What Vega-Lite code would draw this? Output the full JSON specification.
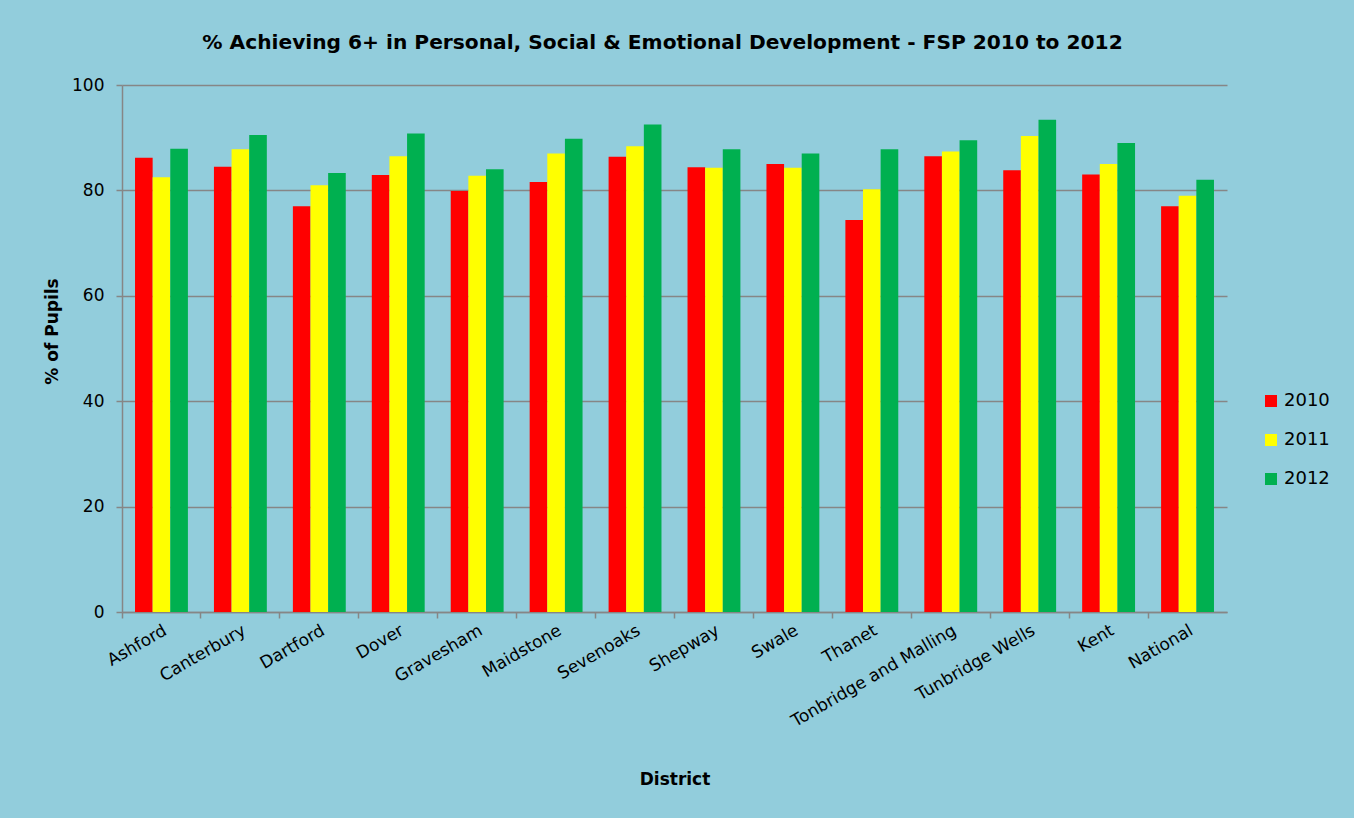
{
  "$schema": "https://vega.github.io/schema/vega-lite/v6.json",
  "autosize": "none",
  "width": 1105,
  "height": 527,
  "padding": {"left": 122, "top": 85, "right": 127, "bottom": 206},
  "background": "#92CDDC",
  "config": {
    "view": {"stroke": null},
    "font": "DejaVu Sans"
  },
  "title": {
    "text": "% Achieving 6+ in Personal, Social & Emotional Development - FSP 2010 to 2012",
    "font": "DejaVu Sans",
    "fontSize": 20.2,
    "fontWeight": "bold",
    "color": "#000000",
    "anchor": "middle",
    "frame": "group",
    "baseline": "middle",
    "offset": 13,
    "dx": -12
  },
  "data": {
    "values": [
      {"District": "Ashford", "Year": "2010", "value": 86.2},
      {"District": "Ashford", "Year": "2011", "value": 82.5},
      {"District": "Ashford", "Year": "2012", "value": 87.9},
      {"District": "Canterbury", "Year": "2010", "value": 84.5},
      {"District": "Canterbury", "Year": "2011", "value": 87.8},
      {"District": "Canterbury", "Year": "2012", "value": 90.5},
      {"District": "Dartford", "Year": "2010", "value": 77.0},
      {"District": "Dartford", "Year": "2011", "value": 81.0},
      {"District": "Dartford", "Year": "2012", "value": 83.3},
      {"District": "Dover", "Year": "2010", "value": 82.9},
      {"District": "Dover", "Year": "2011", "value": 86.5},
      {"District": "Dover", "Year": "2012", "value": 90.8},
      {"District": "Gravesham", "Year": "2010", "value": 79.9},
      {"District": "Gravesham", "Year": "2011", "value": 82.8},
      {"District": "Gravesham", "Year": "2012", "value": 84.0},
      {"District": "Maidstone", "Year": "2010", "value": 81.6},
      {"District": "Maidstone", "Year": "2011", "value": 87.0},
      {"District": "Maidstone", "Year": "2012", "value": 89.8},
      {"District": "Sevenoaks", "Year": "2010", "value": 86.4},
      {"District": "Sevenoaks", "Year": "2011", "value": 88.4},
      {"District": "Sevenoaks", "Year": "2012", "value": 92.5},
      {"District": "Shepway", "Year": "2010", "value": 84.4},
      {"District": "Shepway", "Year": "2011", "value": 84.3},
      {"District": "Shepway", "Year": "2012", "value": 87.8},
      {"District": "Swale", "Year": "2010", "value": 85.0},
      {"District": "Swale", "Year": "2011", "value": 84.3},
      {"District": "Swale", "Year": "2012", "value": 87.0},
      {"District": "Thanet", "Year": "2010", "value": 74.4},
      {"District": "Thanet", "Year": "2011", "value": 80.2},
      {"District": "Thanet", "Year": "2012", "value": 87.8},
      {"District": "Tonbridge and Malling", "Year": "2010", "value": 86.5},
      {"District": "Tonbridge and Malling", "Year": "2011", "value": 87.4},
      {"District": "Tonbridge and Malling", "Year": "2012", "value": 89.5},
      {"District": "Tunbridge Wells", "Year": "2010", "value": 83.8},
      {"District": "Tunbridge Wells", "Year": "2011", "value": 90.3},
      {"District": "Tunbridge Wells", "Year": "2012", "value": 93.4},
      {"District": "Kent", "Year": "2010", "value": 83.0},
      {"District": "Kent", "Year": "2011", "value": 85.0},
      {"District": "Kent", "Year": "2012", "value": 89.0},
      {"District": "National", "Year": "2010", "value": 77.0},
      {"District": "National", "Year": "2011", "value": 79.0},
      {"District": "National", "Year": "2012", "value": 82.0}
    ]
  },
  "resolve": {"axis": {"x": "independent"}},
  "layer": [
    {
      "mark": {"type": "bar"},
      "encoding": {
        "x": {
          "field": "District",
          "type": "nominal",
          "sort": null,
          "scale": {"paddingInner": 0.33, "paddingOuter": 0.165},
          "axis": {
            "orient": "bottom",
            "title": "District",
            "titleFont": "DejaVu Sans",
            "titleFontSize": 17,
            "titleFontWeight": "bold",
            "titleColor": "#000000",
            "titleBaseline": "middle",
            "titleY": 167,
            "labelAngle": -30,
            "labelAlign": "right",
            "labelBaseline": "top",
            "labelFont": "DejaVu Sans",
            "labelFontSize": 17,
            "labelColor": "#000000",
            "labelPadding": 10,
            "labelLimit": 400,
            "ticks": false,
            "domain": true,
            "domainColor": "#868686",
            "domainWidth": 1.5,
            "grid": false
          }
        },
        "xOffset": {"field": "Year", "type": "nominal", "scale": {"paddingInner": 0, "paddingOuter": 0}},
        "y": {
          "field": "value",
          "type": "quantitative",
          "scale": {"domain": [0, 100]},
          "axis": {
            "title": "% of Pupils",
            "titleFont": "DejaVu Sans",
            "titleFontSize": 17,
            "titleFontWeight": "bold",
            "titleColor": "#000000",
            "titleY": 246,
            "titlePadding": 10,
            "values": [0, 20, 40, 60, 80, 100],
            "labelFont": "DejaVu Sans",
            "labelFontSize": 17,
            "labelColor": "#000000",
            "labelPadding": 12,
            "tickSize": 6,
            "tickColor": "#868686",
            "tickWidth": 1.5,
            "domainColor": "#868686",
            "domainWidth": 1.5,
            "grid": true,
            "gridColor": "#868686",
            "gridWidth": 1.5
          }
        },
        "color": {
          "field": "Year",
          "type": "nominal",
          "scale": {"domain": ["2010", "2011", "2012"], "range": ["#FF0000", "#FFFF00", "#00B050"]},
          "legend": {
            "title": null,
            "orient": "none",
            "legendX": 1140,
            "legendY": 307,
            "padding": 0,
            "symbolType": "square",
            "symbolSize": 144,
            "symbolStrokeWidth": 0,
            "symbolOpacity": 1,
            "labelFont": "DejaVu Sans",
            "labelFontSize": 18,
            "labelColor": "#000000",
            "labelOffset": 4,
            "rowPadding": 21
          }
        }
      }
    },
    {
      "mark": {"type": "tick", "opacity": 0},
      "encoding": {
        "x": {
          "field": "District",
          "type": "nominal",
          "sort": null,
          "axis": {
            "orient": "bottom",
            "title": null,
            "labels": false,
            "domain": false,
            "grid": false,
            "ticks": true,
            "tickSize": 6,
            "tickColor": "#868686",
            "tickWidth": 1.5,
            "bandPosition": -0.246
          }
        },
        "y": {"field": "value", "type": "quantitative"}
      }
    }
  ]
}
